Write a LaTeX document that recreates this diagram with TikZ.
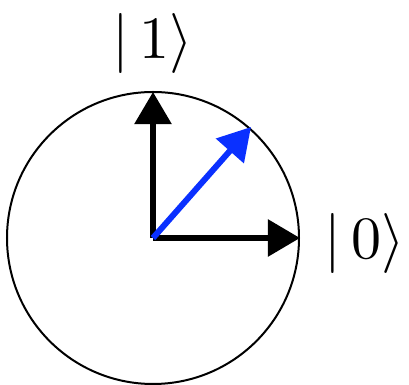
\documentclass[tikz,border=0pt]{standalone}
\usepackage{amsmath}
\usetikzlibrary{arrows.meta,calc}
\definecolor{qblue}{HTML}{0A30FF}
\tikzset{
  >={Triangle[length=0.8cm,width=0.9cm]},
  % bloch
  rim/.style={draw=black,line width=0.05cm},
  basis/.style={->,draw=black,line width=0.14cm},
  state/.style={->,draw=qblue,line width=0.15cm},
  ket/.style={inner sep=0pt,scale=4.27},
}
\begin{document}
\begin{tikzpicture}[x=0.025cm,y=-0.025cm]
  \useasboundingbox (0,0) rectangle (409,385);
  \coordinate (o) at (153,238);
  \coordinate (e1) at (153,92);
  \coordinate (e0) at (300,238);
  \coordinate (psi) at (251,127);
  \node[ket] (ket1) at (153,43) {$|\,1\rangle$};
  \node[ket] (ket0) at (365,243) {$|\,0\rangle$};
  \draw[rim] (o) circle[radius=146];
  \draw[basis] (o) -- (e1);
  \draw[basis] (o) -- (e0);
  \draw[state] (o) -- (psi);
\end{tikzpicture}
\end{document}
